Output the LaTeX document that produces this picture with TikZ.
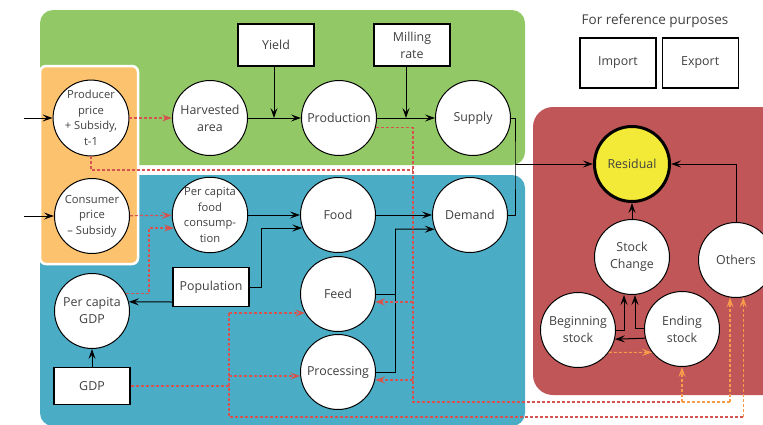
\documentclass[tikz,border=0pt]{standalone}
\usepackage{fontspec}
\setmainfont{Open Sans}
\usetikzlibrary{
  arrows.meta,
  calc,
  positioning
}
\definecolor{supplygreen}{RGB}{146,201,102}
\definecolor{demandblue}{RGB}{75,172,198}
\definecolor{priceorange}{RGB}{252,194,110}
\definecolor{stockred}{RGB}{192,86,87}
\definecolor{residualyellow}{RGB}{242,234,54}
\definecolor{linkred}{RGB}{214,84,80}
\definecolor{linkorange}{RGB}{248,156,76}
\tikzset{
%
  % For all arrow tips.
  >={Stealth[length=10pt,
             width=7pt,
             inset=4pt]},
%
  % For normal lines.
  line/.style={
    line width=1pt},
%
  % For dashed lines.
  dashed line/.style={
    line width=1.2pt,
    dash pattern=on 3pt off 2pt},
%
  % For the relation 'A drives B'.
  drives/.style={
    line,
    ->},
%
  % For dashed links without a tip.
  link/.style={
    dashed line,
    linkred},
%
  % For the relation 'A affects B'.
  affects/.style={
    link,
    ->},
%
  % For dashed links into the stocks.
  stock link/.style={
    dashed line,
    linkorange},
%
  % For the relation 'A affects the stock B'.
  stock affects/.style={
    stock link,
    ->},
%
  % For circles in general.
  state/.style={
    circle,
    draw,
    fill=white,
    line width=1pt,
    minimum size=75pt,
    inner sep=0pt,
    align=center},
%
  % For circles with long texts.
  small state/.style={
    state,
    font=\fontsize{11.2}{15.5}\selectfont},
%
  % For the residual.
  residual/.style={
    state,
    fill=residualyellow,
    line width=3pt},
%
  % For boxes in general.
  box/.style={
    draw,
    fill=white,
    line width=1.2pt,
    minimum width=76pt,
    minimum height=42pt,
    align=center},
%
  % For the coloured areas.
  area/.style={
    rounded corners=13pt}
}

\begin{document}
\begin{tikzpicture}[x=1pt, y=-1pt,
                    font=\fontsize{12.4}{17}\selectfont,
                    text=black!75]
  \useasboundingbox (0,0) rectangle (763,424);
  \clip (0,0) rectangle (763,424);

  % areas
  \fill[area, supplygreen] (40,10) rectangle (525,165);
  \fill[area, demandblue] (40,175) rectangle (525,426);
  \filldraw[fill=priceorange, draw=white, line width=2.5pt,
            rounded corners=6pt] (40,66) rectangle (138,264);
  \fill[area, stockred, rounded corners=20pt] (533,107) rectangle (800,395);

  % supply side
  \node[small state] (PP) at (91,118) {Producer\\price\\+ Subsidy,\\t-1};
  \node[state] (HA) at (210,118) {Harvested\\area};
  \node[state] (Prod) [right=53pt of HA] {Production};
  \node[state] (Sup) [right=58pt of Prod] {Supply};
  \node[box] (Y) at (276,45) {Yield};
  \node[box] (MR) at (412,45) {Milling\\rate};

  % demand side
  \node[small state] (CP) at (92,216) {Consumer\\price\\– Subsidy};
  \node[small state] (PCF) at (210,215) {Per capita\\food\\consump-\\tion};
  \node[state] (Food) at (338,215) {Food};
  \node[state] (Dem) at (470,215) {Demand};
  \node[state] (Feed) [below=3pt of Food] {Feed};
  \node[state] (Proc) [below=2pt of Feed] {Processing};
  \node[state] (PCG) at (92,311) {Per capita\\GDP};
  \node[box, minimum height=39pt] (Pop) at (211,287) {Population};
  \node[box, minimum height=37pt] (GDP) at (92,386) {GDP};

  % stocks
  \node[residual] (Res) at (632,164) {Residual};
  \node[state] (SC) at (632,257) {Stock\\Change};
  \node[state] (Oth) at (736,260) {Others};
  \node[state] (BS) at (578,330) {Beginning\\stock};
  \node[state] (ES) at (682,329) {Ending\\stock};

  % reference
  \node[box, minimum height=50pt] (Imp) at (618,63) {Import};
  \node[box, minimum height=50pt] (Exp) [right=5pt of Imp] {Export};
  \node[font=\fontsize{13.5}{17}\selectfont] (Ref) at (655,21) {For reference purposes};

  % junctions
  \coordinate (PPin) at (24,118);
  \coordinate (CPin) at (24,216);
  \coordinate (SD) at (515,164);
  \coordinate (FP) at (395,229);
  \coordinate (LagTop) at (413,170);
  \coordinate (LagBot) at (413,402);
  \coordinate (GdpMid) at (229,386);
  \coordinate (GdpBot) at (229,417);

  \draw[drives] (PPin) -- (PP);
  \draw[drives] (CPin) -- (CP);
  \draw[drives] (HA) -- (Prod);
  \draw[drives] ([xshift=-2pt]Y.south) -- ([xshift=-2pt]Y.south |- HA.east);
  \draw[drives] (Prod) -- (Sup);
  \draw[drives] ([xshift=-6pt]MR.south) -- ([xshift=-6pt]MR.south |- Prod.east);
  \draw[line] (Sup.east) -| (SD) |- (Dem.east);
  \draw[drives] (SD) -- (Res);

  \draw[drives] (PCF) -- (Food);
  \draw[drives] (Pop.east) -- ++(12pt,0) |- (Food.200);
  \draw[drives] (Food) -- (Dem);
  \draw[drives] ([yshift=-15pt]Pop.west) -- (PCG.14);
  \draw[drives] (GDP) -- (PCG);
  \draw[line] (Feed.east) -| (FP);
  \draw[line] (Proc.east) -| (FP);
  \draw[drives] (FP) -- (Dem.202);

  \draw[drives] (SC) -- (Res);
  \draw[drives] (Oth.north) |- (Res.east);
  \draw[drives] (BS.east) -| ([xshift=-8pt]SC.south);
  \draw[drives] ([yshift=1pt]ES.west) -| ([xshift=3pt]SC.south);
  \draw[drives] (ES.194) -- (BS.-14);

  \draw[affects] (PP) -- (HA);
  \draw[affects] (CP) -- (PCF);
  \draw[affects] (PCG.28) -| ([xshift=-25pt]PCF.200) -- (PCF.200);
  \draw[link] (PP.south) |- (LagTop);
  \draw[link] (Prod.-15) -| (LagBot) -- (LagBot -| ES.south);
  \draw[affects] (Feed.-12 -| LagBot) -- (Feed.-12);
  \draw[affects] (Proc.-12 -| LagBot) -- (Proc.-12);
  \draw[stock link] (LagBot -| ES.south) -- (LagBot -| Oth.261);
  \draw[stock affects] (LagBot -| ES.south) -- (ES.south);
  \draw[stock affects] (LagBot -| Oth.261) -- (Oth.261);
  \draw[link] (GDP.east) -- (GdpMid);
  \draw[link] (Feed.210 -| GdpMid) |- (GdpBot -| Oth.281);
  \draw[affects] (Feed.210 -| GdpMid) -- (Feed.210);
  \draw[affects] (Proc.186 -| GdpMid) -- (Proc.186);
  \draw[stock affects] (GdpBot -| Oth.281) -- (Oth.281);
  \draw[stock affects] (BS.-36) -- (ES.218);
\end{tikzpicture}
\end{document}
